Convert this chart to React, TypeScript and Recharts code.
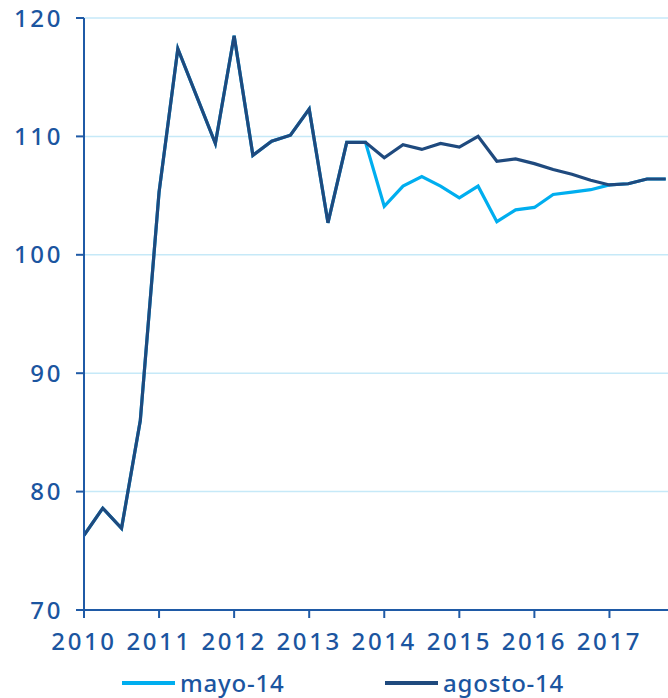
import React from "react";
import { LineChart, Line, XAxis, YAxis, CartesianGrid, Legend } from "recharts";

const quarters: number[] = [
  2010, 2010.25, 2010.5, 2010.75,
  2011, 2011.25, 2011.5, 2011.75,
  2012, 2012.25, 2012.5, 2012.75,
  2013, 2013.25, 2013.5, 2013.75,
  2014, 2014.25, 2014.5, 2014.75,
  2015, 2015.25, 2015.5, 2015.75,
  2016, 2016.25, 2016.5, 2016.75,
  2017, 2017.25, 2017.5, 2017.75,
];

const mayo14: number[] = [
  76.3, 78.6, 76.9, 86.0, 105.3, 117.4, 113.4, 109.4,
  118.5, 108.4, 109.6, 110.1, 112.3, 102.7, 109.5, 109.5,
  104.1, 105.8, 106.6, 105.8, 104.8, 105.8, 102.8, 103.8,
  104.0, 105.1, 105.3, 105.5, 105.9, 106.0, 106.4, 106.4,
];

const agosto14: number[] = [
  76.3, 78.6, 76.9, 86.0, 105.3, 117.4, 113.4, 109.4,
  118.5, 108.4, 109.6, 110.1, 112.3, 102.7, 109.5, 109.5,
  108.2, 109.3, 108.9, 109.4, 109.1, 110.0, 107.9, 108.1,
  107.7, 107.2, 106.8, 106.3, 105.9, 106.0, 106.4, 106.4,
];

const xTicks: number[] = [2010, 2011, 2012, 2013, 2014, 2015, 2016, 2017];
const yTicks: number[] = [70, 80, 90, 100, 110, 120];
const seriesNames: string[] = ["mayo-14", "agosto-14"];

const data = quarters.map((q, i) => ({ q, mayo: mayo14[i], agosto: agosto14[i] }));

const AXIS = "#1F5AA6";
const TEXT = "#1B55A0";
const LIGHT = "#00AEEF";
const DARK = "#1F4A7E";
const FONT = "'Noto Sans', sans-serif";

const renderLegend = () => {
  const items = [
    { name: seriesNames[0], color: LIGHT },
    { name: seriesNames[1], color: DARK },
  ];
  return (
    <div style={{ display: "flex", height: 34, alignItems: "center", paddingLeft: 122, paddingTop: 4, boxSizing: "border-box", fontFamily: FONT }}>
      {items.map((it) => (
        <div key={it.name} style={{ display: "flex", alignItems: "center", width: 263 }}>
          <div style={{ width: 53, height: 4, background: it.color, marginRight: 5 }} />
          <span style={{ fontSize: 24, fontWeight: 500, color: TEXT, letterSpacing: 0.8, lineHeight: "24px" }}>{it.name}</span>
        </div>
      ))}
    </div>
  );
};

const tickStyle = { fill: TEXT, fontSize: 24, fontWeight: 500, fontFamily: FONT, letterSpacing: 2.6 };

export default function App() {
  return (
    <div style={{ position: "absolute", left: 0, top: 0, width: 668, height: 698, background: "#fff" }}>
      <LineChart
        width={668}
        height={698}
        data={data}
        margin={{ top: 18, right: 0, bottom: 0, left: 0 }}
      >
        <CartesianGrid horizontal={true} vertical={false} stroke="#C6E9F8" strokeWidth={1.5} />
        <XAxis
          dataKey="q"
          type="number"
          domain={[2010, 2017.78]}
          ticks={xTicks}
          allowDataOverflow
          height={54}
          tickSize={8}
          tickMargin={15}
          stroke={AXIS}
          strokeWidth={2}
          tick={tickStyle}
          interval={0}
        />
        <YAxis
          type="number"
          domain={[70, 120]}
          ticks={yTicks}
          width={84}
          tickSize={8}
          tickMargin={13}
          stroke={AXIS}
          strokeWidth={2}
          tick={tickStyle}
          interval={0}
        />
        <Legend verticalAlign="bottom" content={renderLegend} />
        <Line
          type="linear"
          dataKey="mayo"
          name={seriesNames[0]}
          stroke={LIGHT}
          strokeWidth={3.2}
          dot={false}
          activeDot={false}
          isAnimationActive={false}
        />
        <Line
          type="linear"
          dataKey="agosto"
          name={seriesNames[1]}
          stroke={DARK}
          strokeWidth={3.2}
          dot={false}
          activeDot={false}
          isAnimationActive={false}
        />
      </LineChart>
    </div>
  );
}
